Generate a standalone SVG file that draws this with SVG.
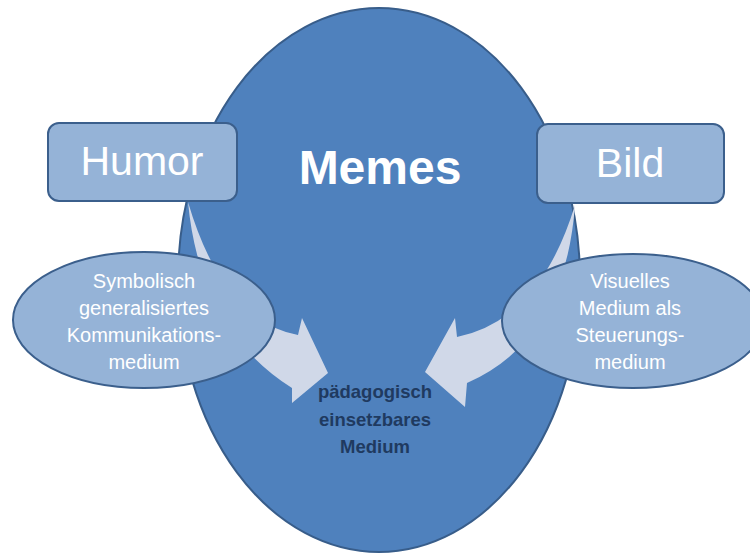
<svg xmlns="http://www.w3.org/2000/svg" width="750" height="553" viewBox="0 0 750 553">
<style>
.big{fill:#4f81bd;stroke:#385d8a;stroke-width:2}
.box{fill:#95b3d7;stroke:#3b5f8c;stroke-width:2}
.arr{fill:#d0d8e8;stroke:none}
.t{font-family:"Liberation Sans",Arial,sans-serif;fill:#ffffff;text-anchor:middle}
.c{font-family:"Liberation Sans",Arial,sans-serif;fill:#1f3a60;text-anchor:middle;font-weight:bold;font-size:18.5px}
</style>
<rect width="750" height="553" fill="#ffffff"/>
<g id="memes">
<ellipse class="big" cx="379" cy="280" rx="201" ry="272"/>
<text class="t" x="380" y="184" font-size="48" font-weight="bold">Memes</text>
</g>
<g id="connectors">
<path class="arr" d="M188,202 Q200,330 292,388 L292,403 L328,373 L302,318 L298,335 Q223,321 188,202 Z"/>
<path class="arr" d="M575,205 Q565,340 467,383 L465,407 L425,372 L455,318 L457,337 Q540,320 575,205 Z"/>
</g>
<g id="humor">
<rect class="box" x="48" y="123" width="189" height="78" rx="11"/>
<text class="t" x="142" y="175" font-size="41">Humor</text>
</g>
<g id="bild">
<rect class="box" x="537" y="124" width="187" height="79" rx="11"/>
<text class="t" x="630" y="177" font-size="41">Bild</text>
</g>
<g id="symbolisch">
<ellipse class="box" cx="144" cy="320" rx="131" ry="68"/>
<text class="t" font-size="20"><tspan x="144" y="288">Symbolisch</tspan><tspan x="144" y="315">generalisiertes</tspan><tspan x="144" y="342">Kommunikations-</tspan><tspan x="144" y="369">medium</tspan></text>
</g>
<g id="visuelles">
<ellipse class="box" cx="633" cy="321" rx="131" ry="67"/>
<text class="t" font-size="20"><tspan x="630" y="288">Visuelles</tspan><tspan x="630" y="315">Medium als</tspan><tspan x="630" y="342">Steuerungs-</tspan><tspan x="630" y="369">medium</tspan></text>
</g>
<g id="zentrum">
<text class="c"><tspan x="375" y="398">pädagogisch</tspan><tspan x="375" y="426">einsetzbares</tspan><tspan x="375" y="453">Medium</tspan></text>
</g>
</svg>
